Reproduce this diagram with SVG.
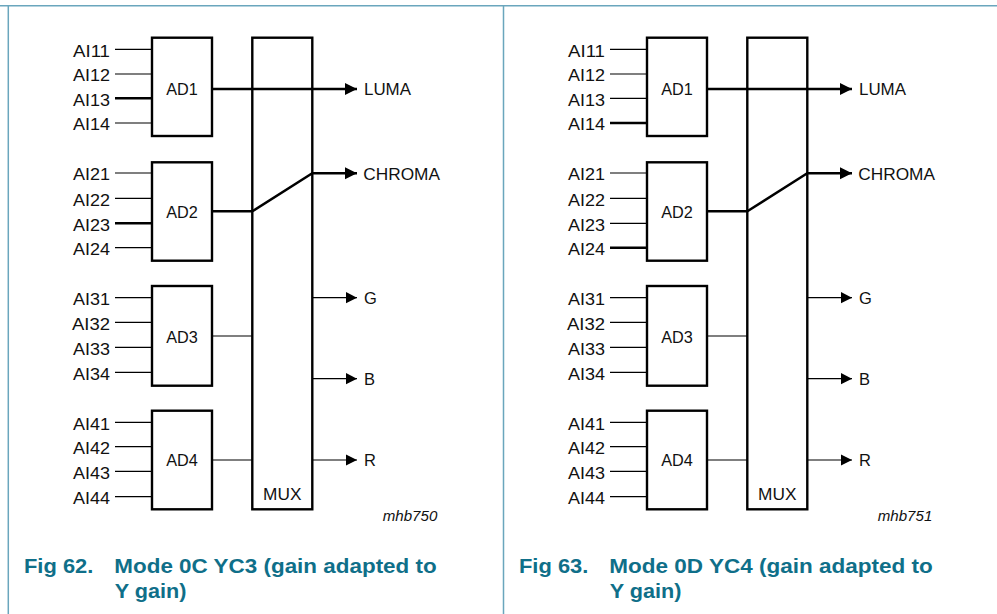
<svg xmlns="http://www.w3.org/2000/svg" width="997" height="614" viewBox="0 0 997 614">
<style>
.box{fill:#fff;stroke:#000;stroke-width:2.4}
.thin{stroke:#000;stroke-width:1.2;fill:none}
.thick{stroke:#000;stroke-width:2.4;fill:none}
.lbl{font-family:"Liberation Sans",Arial,sans-serif;font-size:16.5px;fill:#111}
.ai{text-anchor:end}
.mid{text-anchor:middle}
.code{font-family:"Liberation Sans",Arial,sans-serif;font-size:14.5px;font-style:italic;fill:#111}
.cap{font-family:"Liberation Sans",Arial,sans-serif;font-size:20.5px;font-weight:bold;fill:#0f6f89}
.frame{stroke:#6aa6bd;stroke-width:1.5;fill:none}
</style>
<defs>
<marker id="arr" markerUnits="userSpaceOnUse" markerWidth="13" markerHeight="13" refX="12" refY="6" orient="auto">
<path d="M0,0 L12,6 L0,12 z" fill="#000"/>
</marker>
<marker id="arrs" markerUnits="userSpaceOnUse" markerWidth="13" markerHeight="13" refX="11" refY="5.6" orient="auto">
<path d="M0,0 L11,5.6 L0,11.2 z" fill="#000"/>
</marker>
</defs>
<rect width="997" height="614" fill="#fff"/>
<g id="frame">
<line class="frame" x1="0" y1="5.7" x2="997" y2="5.7"/>
<line class="frame" x1="8.3" y1="5" x2="8.3" y2="614"/>
<line class="frame" x1="503.5" y1="5" x2="503.5" y2="614"/>
</g>

<!-- LEFT PANEL -->
<g id="fig62">
<g id="connectors-62">
<line class="thin" x1="115" y1="49.3" x2="152" y2="49.3"/>
<line class="thin" x1="115" y1="74" x2="152" y2="74"/>
<line class="thick" x1="115" y1="98.3" x2="152" y2="98.3"/>
<line class="thin" x1="115" y1="123" x2="152" y2="123"/>
<line class="thin" x1="115" y1="173" x2="152" y2="173"/>
<line class="thin" x1="115" y1="198.3" x2="152" y2="198.3"/>
<line class="thick" x1="115" y1="223.3" x2="152" y2="223.3"/>
<line class="thin" x1="115" y1="247.7" x2="152" y2="247.7"/>
<line class="thin" x1="115" y1="297.7" x2="152" y2="297.7"/>
<line class="thin" x1="115" y1="322.3" x2="152" y2="322.3"/>
<line class="thin" x1="115" y1="347.3" x2="152" y2="347.3"/>
<line class="thin" x1="115" y1="372.3" x2="152" y2="372.3"/>
<line class="thin" x1="115" y1="422.3" x2="152" y2="422.3"/>
<line class="thin" x1="115" y1="446.7" x2="152" y2="446.7"/>
<line class="thin" x1="115" y1="471.3" x2="152" y2="471.3"/>
<line class="thin" x1="115" y1="496.7" x2="152" y2="496.7"/>
<line class="thin" x1="212" y1="336" x2="252" y2="336"/>
<line class="thin" x1="212" y1="460" x2="252" y2="460"/>
<line class="thin" x1="312" y1="297.7" x2="357" y2="297.7" marker-end="url(#arrs)"/>
<line class="thin" x1="312" y1="378.7" x2="357" y2="378.7" marker-end="url(#arrs)"/>
<line class="thin" x1="312" y1="460" x2="357" y2="460" marker-end="url(#arrs)"/>
</g>
<g id="ad1-62"><rect class="box" x="152" y="37.7" width="60" height="98.3"/><text class="lbl mid" x="182" y="94.8" textLength="31.6" lengthAdjust="spacingAndGlyphs">AD1</text></g>
<g id="ad2-62"><rect class="box" x="152" y="162.3" width="60" height="98.4"/><text class="lbl mid" x="182" y="217.6" textLength="31.6" lengthAdjust="spacingAndGlyphs">AD2</text></g>
<g id="ad3-62"><rect class="box" x="152" y="286" width="60" height="99.7"/><text class="lbl mid" x="182" y="342.6" textLength="31.6" lengthAdjust="spacingAndGlyphs">AD3</text></g>
<g id="ad4-62"><rect class="box" x="152" y="410.7" width="60" height="98.6"/><text class="lbl mid" x="182" y="466.3" textLength="31.6" lengthAdjust="spacingAndGlyphs">AD4</text></g>
<g id="mux-62"><rect class="box" x="252.3" y="37.7" width="60" height="471.6"/><text class="lbl mid" x="282.3" y="499.5" textLength="38.4" lengthAdjust="spacingAndGlyphs">MUX</text></g>
<g id="signals-62">
<line class="thick" x1="212" y1="89" x2="357" y2="89" marker-end="url(#arr)"/>
<polyline class="thick" points="212,211.3 252.3,211.3 312.3,173.3 357,173.3" marker-end="url(#arr)"/>
</g>
<g id="inputs-62">
<text class="lbl ai" x="110" y="56.8" textLength="37" lengthAdjust="spacingAndGlyphs">AI11</text>
<text class="lbl ai" x="110" y="81.3" textLength="37" lengthAdjust="spacingAndGlyphs">AI12</text>
<text class="lbl ai" x="110" y="105.6" textLength="37" lengthAdjust="spacingAndGlyphs">AI13</text>
<text class="lbl ai" x="110" y="130.3" textLength="37" lengthAdjust="spacingAndGlyphs">AI14</text>
<text class="lbl ai" x="110" y="180.3" textLength="37" lengthAdjust="spacingAndGlyphs">AI21</text>
<text class="lbl ai" x="110" y="205.6" textLength="37" lengthAdjust="spacingAndGlyphs">AI22</text>
<text class="lbl ai" x="110" y="230.6" textLength="37" lengthAdjust="spacingAndGlyphs">AI23</text>
<text class="lbl ai" x="110" y="255" textLength="37" lengthAdjust="spacingAndGlyphs">AI24</text>
<text class="lbl ai" x="110" y="305" textLength="37" lengthAdjust="spacingAndGlyphs">AI31</text>
<text class="lbl ai" x="110" y="329.6" textLength="38" lengthAdjust="spacingAndGlyphs">AI32</text>
<text class="lbl ai" x="110" y="354.6" textLength="37" lengthAdjust="spacingAndGlyphs">AI33</text>
<text class="lbl ai" x="110" y="379.6" textLength="37" lengthAdjust="spacingAndGlyphs">AI34</text>
<text class="lbl ai" x="110" y="429.6" textLength="37" lengthAdjust="spacingAndGlyphs">AI41</text>
<text class="lbl ai" x="110" y="454" textLength="37" lengthAdjust="spacingAndGlyphs">AI42</text>
<text class="lbl ai" x="110" y="478.6" textLength="37" lengthAdjust="spacingAndGlyphs">AI43</text>
<text class="lbl ai" x="110" y="504" textLength="37" lengthAdjust="spacingAndGlyphs">AI44</text>
</g>
<g id="outputs-62">
<text class="lbl" x="364" y="95.2" textLength="47" lengthAdjust="spacingAndGlyphs">LUMA</text>
<text class="lbl" x="363.3" y="179.5" textLength="76.7" lengthAdjust="spacingAndGlyphs">CHROMA</text>
<text class="lbl" x="364" y="303.9">G</text>
<text class="lbl" x="364" y="384.6">B</text>
<text class="lbl" x="364" y="466.2">R</text>
</g>
<text class="code" x="382.7" y="520.7" textLength="54.6" lengthAdjust="spacingAndGlyphs">mhb750</text>
<g id="caption-62">
<text class="cap" x="24" y="573" textLength="69.3" lengthAdjust="spacingAndGlyphs">Fig 62.</text>
<text class="cap" x="114.3" y="573" textLength="322.4" lengthAdjust="spacingAndGlyphs">Mode 0C YC3 (gain adapted to</text>
<text class="cap" x="114.8" y="598.3" textLength="71.7" lengthAdjust="spacingAndGlyphs">Y gain)</text>
</g>
</g>

<!-- RIGHT PANEL -->
<g id="fig63" transform="translate(495,0)">
<g id="connectors-63">
<line class="thin" x1="115" y1="49.3" x2="152" y2="49.3"/>
<line class="thin" x1="115" y1="74" x2="152" y2="74"/>
<line class="thin" x1="115" y1="98.3" x2="152" y2="98.3"/>
<line class="thick" x1="115" y1="123" x2="152" y2="123"/>
<line class="thin" x1="115" y1="173" x2="152" y2="173"/>
<line class="thin" x1="115" y1="198.3" x2="152" y2="198.3"/>
<line class="thin" x1="115" y1="223.3" x2="152" y2="223.3"/>
<line class="thick" x1="115" y1="247.7" x2="152" y2="247.7"/>
<line class="thin" x1="115" y1="297.7" x2="152" y2="297.7"/>
<line class="thin" x1="115" y1="322.3" x2="152" y2="322.3"/>
<line class="thin" x1="115" y1="347.3" x2="152" y2="347.3"/>
<line class="thin" x1="115" y1="372.3" x2="152" y2="372.3"/>
<line class="thin" x1="115" y1="422.3" x2="152" y2="422.3"/>
<line class="thin" x1="115" y1="446.7" x2="152" y2="446.7"/>
<line class="thin" x1="115" y1="471.3" x2="152" y2="471.3"/>
<line class="thin" x1="115" y1="496.7" x2="152" y2="496.7"/>
<line class="thin" x1="212" y1="336" x2="252" y2="336"/>
<line class="thin" x1="212" y1="460" x2="252" y2="460"/>
<line class="thin" x1="312" y1="297.7" x2="357" y2="297.7" marker-end="url(#arrs)"/>
<line class="thin" x1="312" y1="378.7" x2="357" y2="378.7" marker-end="url(#arrs)"/>
<line class="thin" x1="312" y1="460" x2="357" y2="460" marker-end="url(#arrs)"/>
</g>
<g id="ad1-63"><rect class="box" x="152" y="37.7" width="60" height="98.3"/><text class="lbl mid" x="182" y="94.8" textLength="31.6" lengthAdjust="spacingAndGlyphs">AD1</text></g>
<g id="ad2-63"><rect class="box" x="152" y="162.3" width="60" height="98.4"/><text class="lbl mid" x="182" y="217.6" textLength="31.6" lengthAdjust="spacingAndGlyphs">AD2</text></g>
<g id="ad3-63"><rect class="box" x="152" y="286" width="60" height="99.7"/><text class="lbl mid" x="182" y="342.6" textLength="31.6" lengthAdjust="spacingAndGlyphs">AD3</text></g>
<g id="ad4-63"><rect class="box" x="152" y="410.7" width="60" height="98.6"/><text class="lbl mid" x="182" y="466.3" textLength="31.6" lengthAdjust="spacingAndGlyphs">AD4</text></g>
<g id="mux-63"><rect class="box" x="252.3" y="37.7" width="60" height="471.6"/><text class="lbl mid" x="282.3" y="499.5" textLength="38.4" lengthAdjust="spacingAndGlyphs">MUX</text></g>
<g id="signals-63">
<line class="thick" x1="212" y1="89" x2="357" y2="89" marker-end="url(#arr)"/>
<polyline class="thick" points="212,211.3 252.3,211.3 312.3,173.3 357,173.3" marker-end="url(#arr)"/>
</g>
<g id="inputs-63">
<text class="lbl ai" x="110" y="56.8" textLength="37" lengthAdjust="spacingAndGlyphs">AI11</text>
<text class="lbl ai" x="110" y="81.3" textLength="37" lengthAdjust="spacingAndGlyphs">AI12</text>
<text class="lbl ai" x="110" y="105.6" textLength="37" lengthAdjust="spacingAndGlyphs">AI13</text>
<text class="lbl ai" x="110" y="130.3" textLength="37" lengthAdjust="spacingAndGlyphs">AI14</text>
<text class="lbl ai" x="110" y="180.3" textLength="37" lengthAdjust="spacingAndGlyphs">AI21</text>
<text class="lbl ai" x="110" y="205.6" textLength="37" lengthAdjust="spacingAndGlyphs">AI22</text>
<text class="lbl ai" x="110" y="230.6" textLength="37" lengthAdjust="spacingAndGlyphs">AI23</text>
<text class="lbl ai" x="110" y="255" textLength="37" lengthAdjust="spacingAndGlyphs">AI24</text>
<text class="lbl ai" x="110" y="305" textLength="37" lengthAdjust="spacingAndGlyphs">AI31</text>
<text class="lbl ai" x="110" y="329.6" textLength="38" lengthAdjust="spacingAndGlyphs">AI32</text>
<text class="lbl ai" x="110" y="354.6" textLength="37" lengthAdjust="spacingAndGlyphs">AI33</text>
<text class="lbl ai" x="110" y="379.6" textLength="37" lengthAdjust="spacingAndGlyphs">AI34</text>
<text class="lbl ai" x="110" y="429.6" textLength="37" lengthAdjust="spacingAndGlyphs">AI41</text>
<text class="lbl ai" x="110" y="454" textLength="37" lengthAdjust="spacingAndGlyphs">AI42</text>
<text class="lbl ai" x="110" y="478.6" textLength="37" lengthAdjust="spacingAndGlyphs">AI43</text>
<text class="lbl ai" x="110" y="504" textLength="37" lengthAdjust="spacingAndGlyphs">AI44</text>
</g>
<g id="outputs-63">
<text class="lbl" x="364" y="95.2" textLength="47" lengthAdjust="spacingAndGlyphs">LUMA</text>
<text class="lbl" x="363.3" y="179.5" textLength="76.7" lengthAdjust="spacingAndGlyphs">CHROMA</text>
<text class="lbl" x="364" y="303.9">G</text>
<text class="lbl" x="364" y="384.6">B</text>
<text class="lbl" x="364" y="466.2">R</text>
</g>
<text class="code" x="382.7" y="520.7" textLength="54.6" lengthAdjust="spacingAndGlyphs">mhb751</text>
<g id="caption-63">
<text class="cap" x="24" y="573" textLength="69.3" lengthAdjust="spacingAndGlyphs">Fig 63.</text>
<text class="cap" x="114.3" y="573" textLength="323.5" lengthAdjust="spacingAndGlyphs">Mode 0D YC4 (gain adapted to</text>
<text class="cap" x="114.8" y="598.3" textLength="71.7" lengthAdjust="spacingAndGlyphs">Y gain)</text>
</g>
</g>
</svg>
